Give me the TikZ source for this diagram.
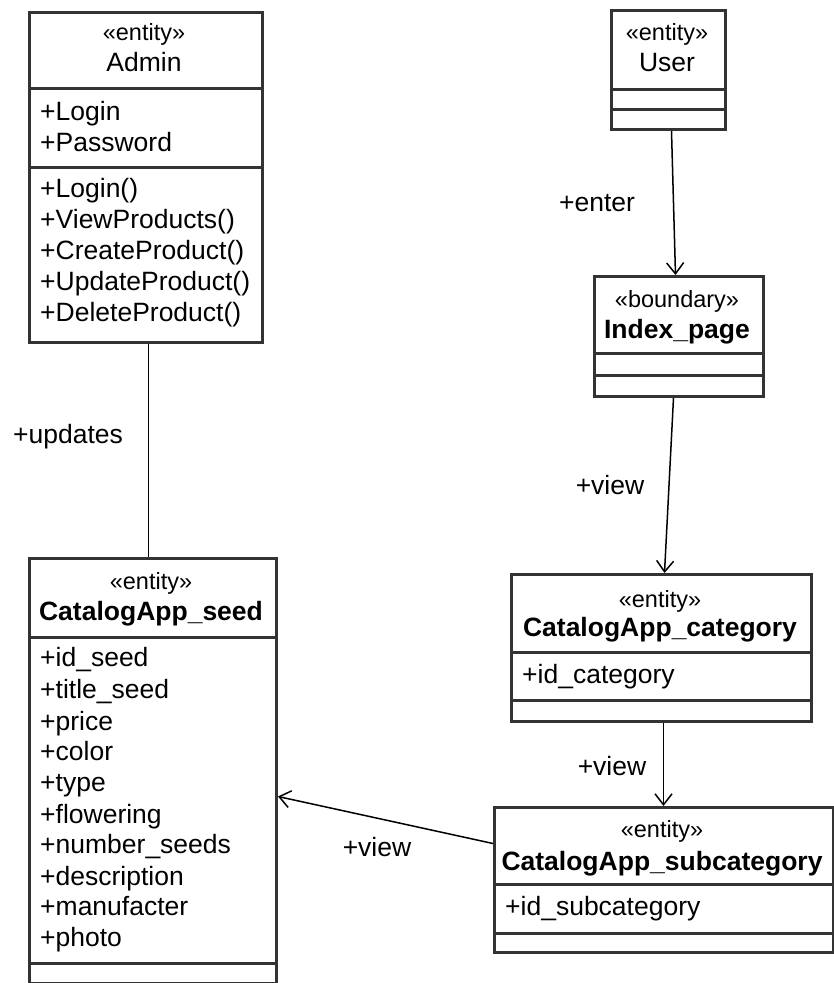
\documentclass[tikz,border=0pt]{standalone}
\usepackage{fontspec}
\setmainfont{Liberation Sans}
\usetikzlibrary{arrows.meta}
\tikzset{
  umlbox/.style={draw=black!80, line width=3pt, inner sep=0pt, anchor=north west, fill=white},
  divider/.style={draw=black!80, line width=3pt},
  txt/.style={inner sep=0pt, text height=19pt, text depth=3pt, font=\fontsize{26.5}{30}\selectfont},
  attr/.style={txt, anchor=west},
  stereo/.style={inner sep=0pt, text height=17pt, text depth=3pt, font=\fontsize{23.5}{28}\selectfont},
  cname/.style={txt, font=\fontsize{26.5}{30}\selectfont\bfseries},
  pname/.style={txt},
  conn/.style={draw=black, line width=1.5pt},
  assoc/.style={conn, -{Straight Barb[length=11pt,width=17pt,line width=1.5pt]}},
  lbl/.style={txt}
}
\begin{document}
\begin{tikzpicture}[x=1pt,y=-1pt]
\useasboundingbox (0,0) rectangle (834,983);
% boxes
\node[umlbox, minimum width=233pt, minimum height=330pt] (admin) at (28,11) {};
\node[umlbox, minimum width=114pt, minimum height=119pt] (user) at (610,9) {};
\node[umlbox, minimum width=169pt, minimum height=120pt] (index) at (593,275) {};
\node[umlbox, minimum width=300pt, minimum height=147pt] (cat) at (510,573) {};
\node[umlbox, minimum width=339pt, minimum height=145pt] (sub) at (493,806) {};
\node[umlbox, minimum width=247pt, minimum height=425pt] (seed) at (28,557) {};
% dividers
\draw[divider] (28,88) -- (261,88);
\draw[divider] (28,167) -- (261,167);
\draw[divider] (610,89) -- (724,89);
\draw[divider] (610,109) -- (724,109);
\draw[divider] (593,353) -- (762,353);
\draw[divider] (593,375) -- (762,375);
\draw[divider] (510,652) -- (810,652);
\draw[divider] (510,700) -- (810,700);
\draw[divider] (493,884) -- (832,884);
\draw[divider] (493,933) -- (832,933);
\draw[divider] (28,637) -- (275,637);
\draw[divider] (28,963) -- (275,963);
% Admin
\node[stereo] (adminst) at (144,33) {«entity»};
\node[pname] (adminname) at (144,63) {Admin};
\node[attr] (a1) at (40,112) {+Login};
\node[attr] (a2) at (40,143) {+Password};
\node[attr] (m1) at (40,189) {+Login()};
\node[attr] (m2) at (40,220) {+ViewProducts()};
\node[attr] (m3) at (40,251) {+CreateProduct()};
\node[attr] (m4) at (40,282) {+UpdateProduct()};
\node[attr] (m5) at (40,313) {+DeleteProduct()};
% User
\node[stereo] (userst) at (667,33) {«entity»};
\node[pname] (username) at (667,63) {User};
% Index
\node[stereo] (indexst) at (677,300) {«boundary»};
\node[cname] (indexname) at (677,330) {Index\_page};
% Category
\node[stereo] (catst) at (660,600) {«entity»};
\node[cname] (catname) at (660,628) {CatalogApp\_category};
\node[attr] (c1) at (522,675) {+id\_category};
% Subcategory
\node[stereo] (subst) at (662,830) {«entity»};
\node[cname] (subname) at (662,862) {CatalogApp\_subcategory};
\node[attr] (s1) at (505,907) {+id\_subcategory};
% Seed
\node[stereo] (seedst) at (151,582) {«entity»};
\node[cname] (seedname) at (151,612) {CatalogApp\_seed};
\node[attr] (d1) at (40,658) {+id\_seed};
\node[attr] (d2) at (40,690) {+title\_seed};
\node[attr] (d3) at (40,722) {+price};
\node[attr] (d4) at (40,752) {+color};
\node[attr] (d5) at (40,783) {+type};
\node[attr] (d6) at (40,815) {+flowering};
\node[attr] (d7) at (40,845) {+number\_seeds};
\node[attr] (d8) at (40,877) {+description};
\node[attr] (d9) at (40,907) {+manufacter};
\node[attr] (d10) at (40,938) {+photo};
% connectors
\draw[conn] ([xshift=2.5pt]admin.south) -- ([xshift=2.5pt]admin.south |- seed.north);
\draw[assoc] ([xshift=3pt]user.south) -- ([xshift=-3.5pt]index.north);
\draw[assoc] ([xshift=-5.5pt]index.south) -- ([xshift=3pt]cat.north);
\draw[assoc] ([xshift=2pt]cat.south) -- ([xshift=-0.5pt]sub.north);
\draw[assoc] ([yshift=36.5pt]sub.west) -- ([yshift=-25.5pt]seed.east);
% labels
\node[lbl] (l1) at (68,435) {+updates};
\node[lbl] (l2) at (597,203) {+enter};
\node[lbl] (l3) at (610,486) {+view};
\node[lbl] (l4) at (612,767) {+view};
\node[lbl] (l5) at (377,848) {+view};
\end{tikzpicture}
\end{document}
